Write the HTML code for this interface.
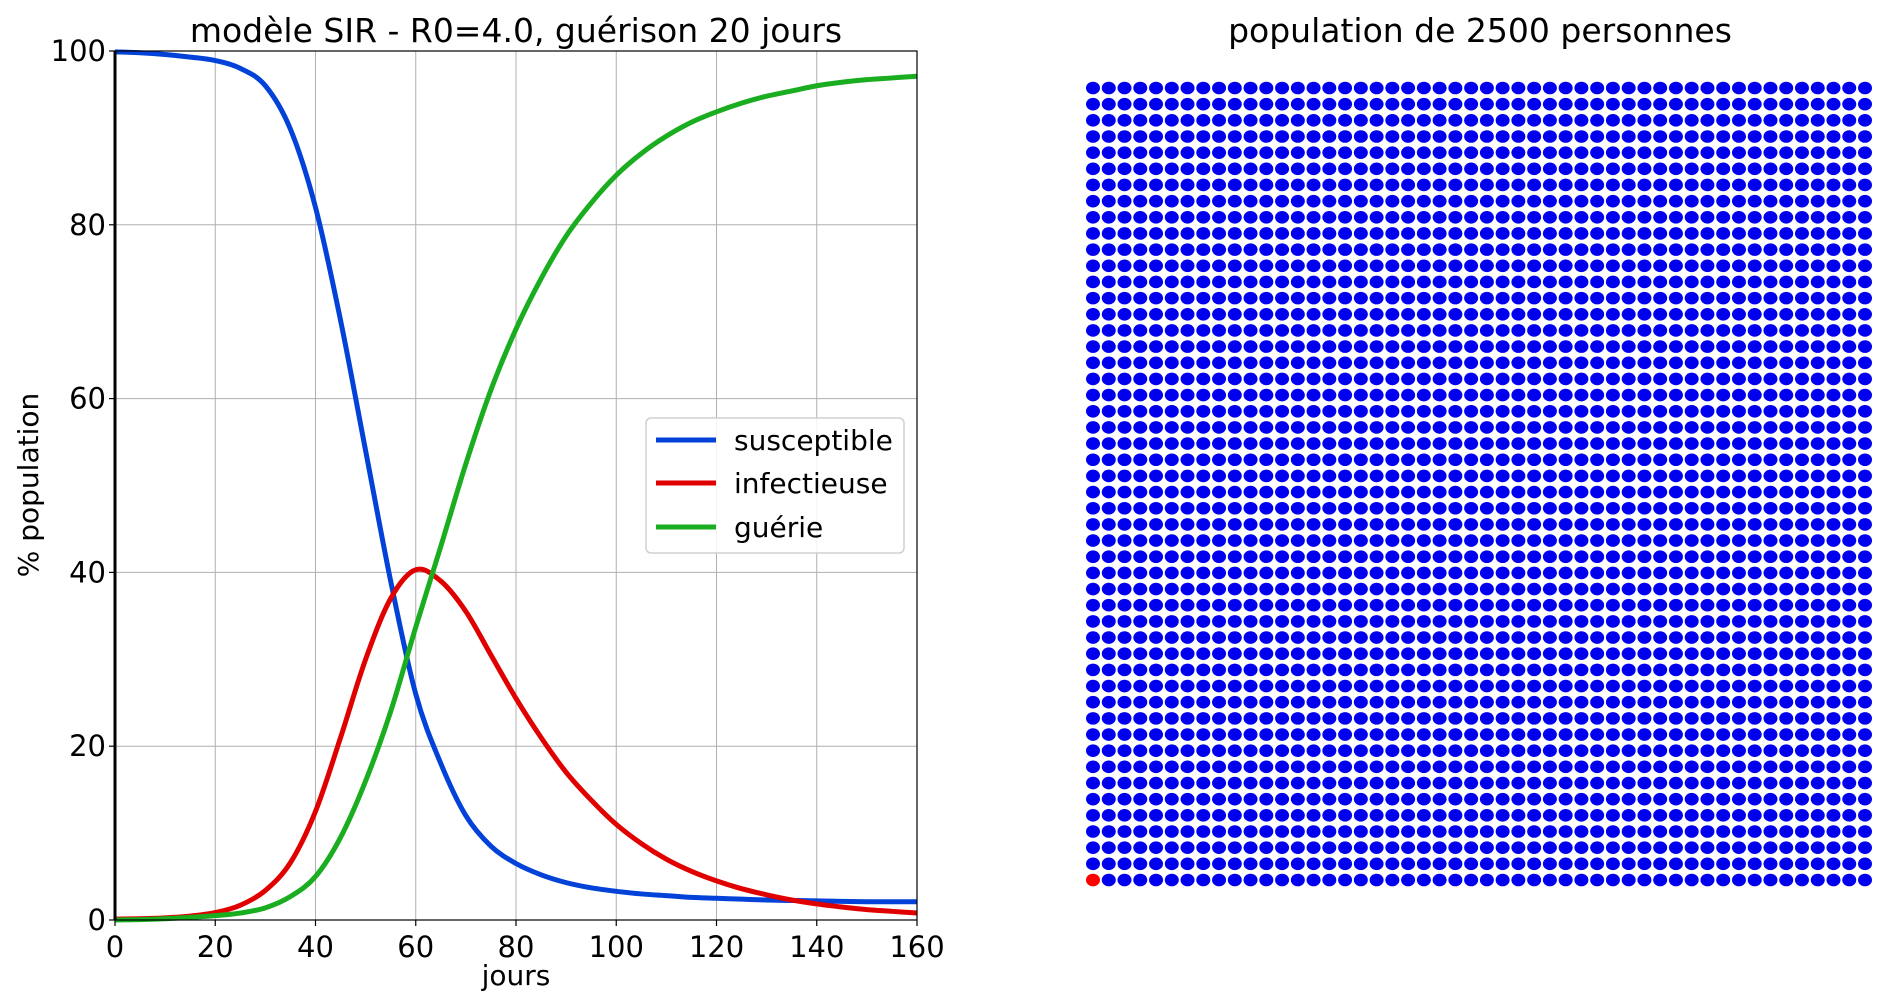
<!DOCTYPE html>
<html><head><meta charset="utf-8"><style>
html,body{margin:0;padding:0;background:#fff;}
svg{display:block;font-family:"DejaVu Sans","Liberation Sans",sans-serif;}
</style></head><body>
<svg id="chart" width="1900" height="1000" viewBox="0 0 1900 1000">
<g id="grid"></g>
<g id="series"></g>
<g id="axes"></g>
<text x="516" y="42" font-size="33" text-anchor="middle">modèle SIR - R0=4.0, guérison 20 jours</text>
<text x="516" y="985" font-size="28" text-anchor="middle">jours</text>
<text transform="translate(38,485) rotate(-90)" font-size="28" text-anchor="middle">% population</text>
<g>
<rect x="646" y="418" width="258" height="135" rx="5" fill="#fff" fill-opacity="0.85" stroke="#d0d0d0" stroke-width="1.5"/>
<line x1="656" y1="440" x2="716" y2="440" stroke="#0342d8" stroke-width="5"/>
<text x="734" y="450" font-size="28">susceptible</text>
<line x1="656" y1="483" x2="716" y2="483" stroke="#e00000" stroke-width="5"/>
<text x="734" y="493" font-size="28">infectieuse</text>
<line x1="656" y1="527" x2="716" y2="527" stroke="#19ad1f" stroke-width="5"/>
<text x="734" y="537" font-size="28">guérie</text>
</g>
<text x="1480" y="42" font-size="33" text-anchor="middle">population de 2500 personnes</text>
<g id="dots"></g>
</svg>
<script>
const days = [0,5,10,15,20,25,30,35,40,45,50,55,60,65,70,75,80,85,90,95,100,105,110,115,120,125,130,135,140,145,150,155,160];
const susceptible = [99.9,99.8,99.6,99.3,98.9,98,96,91,82,69,54,39,26,18,12,8.5,6.5,5.2,4.3,3.7,3.3,3,2.8,2.6,2.5,2.4,2.3,2.25,2.2,2.15,2.1,2.1,2.1];
const infectieuse = [0.1,0.15,0.25,0.45,0.85,1.7,3.4,6.6,12.5,21,30,37,40.3,39,35.5,30.5,25.5,21,17,13.8,11,8.8,7,5.6,4.5,3.6,2.9,2.3,1.85,1.5,1.2,1,0.8];
const guerie = [0,0.05,0.15,0.3,0.5,0.8,1.4,2.7,5,9.5,16,24,33.7,43,52.5,61,68,73.8,78.7,82.5,85.7,88.2,90.2,91.8,93,94,94.8,95.4,96,96.4,96.7,96.9,97.1];
const xTicks = [0,20,40,60,80,100,120,140,160];
const yTicks = [0,20,40,60,80,100];
const infectedCount = 1;
const populationSize = 2500;

const NS='http://www.w3.org/2000/svg';
const L=115,R=917,T=51,B=920;
const xs=v=>L+(v-0)/(160-0)*(R-L);
const ys=v=>B-(v-0)/(100-0)*(B-T);
function mk(tag,attrs,parent){const e=document.createElementNS(NS,tag);for(const k in attrs)e.setAttribute(k,attrs[k]);parent.appendChild(e);return e;}
const grid=document.getElementById('grid'),axes=document.getElementById('axes'),ser=document.getElementById('series');
xTicks.forEach(t=>{
  const g=mk('line',{x1:xs(t),x2:xs(t),y1:T,y2:B,stroke:'#b0b0b0','stroke-width':1},grid);
  
  
  const tk=mk('line',{x1:xs(t),x2:xs(t),y1:B,y2:B+6,stroke:'#000','stroke-width':1.2},axes);
  
  
  const tx=mk('text',{x:xs(t),y:B+37,'font-size':29,'text-anchor':'middle'},axes);
  tx.textContent=t;
  
  
});
yTicks.forEach(t=>{
  const g=mk('line',{x1:L,x2:R,y1:ys(t),y2:ys(t),stroke:'#b0b0b0','stroke-width':1},grid);
  
  
  const tk=mk('line',{x1:L-6,x2:L,y1:ys(t),y2:ys(t),stroke:'#000','stroke-width':1.2},axes);
  
  
  const tx=mk('text',{x:L-9,y:ys(t)+10,'font-size':29,'text-anchor':'end'},axes);
  tx.textContent=t;
  
  
});
const frame=mk('rect',{x:L,y:T,width:R-L,height:B-T,fill:'none',stroke:'#000','stroke-width':1.2},axes);


const lspine=mk('line',{x1:L,x2:L,y1:T,y2:B,stroke:'#000','stroke-width':3},axes);


function path(vals){
  const p=days.map((d,i)=>[xs(d),ys(vals[i])]);
  let s='M'+p[0][0]+','+p[0][1];
  for(let i=0;i<p.length-1;i++){
    const p0=p[Math.max(0,i-1)],p1=p[i],p2=p[i+1],p3=p[Math.min(p.length-1,i+2)];
    const c1=[p1[0]+(p2[0]-p0[0])/6,p1[1]+(p2[1]-p0[1])/6];
    const c2=[p2[0]-(p3[0]-p1[0])/6,p2[1]-(p3[1]-p1[1])/6];
    s+=' C'+c1+' '+c2+' '+p2;
  }
  return s;
}
const sl=mk('path',{d:path(susceptible),fill:'none',stroke:'#0342d8','stroke-width':5},ser);


const il=mk('path',{d:path(infectieuse),fill:'none',stroke:'#e00000','stroke-width':5},ser);


const gl=mk('path',{d:path(guerie),fill:'none',stroke:'#19ad1f','stroke-width':5},ser);


const dots=document.getElementById('dots');
const n=Math.round(Math.sqrt(populationSize));
const x0=1093,x1=1865,y0=88,y1=880;
const dx=(x1-x0)/(n-1),dy=(y1-y0)/(n-1);
for(let k=0;k<populationSize;k++){
  const col=k%n,row=Math.floor(k/n);
  const c=mk('ellipse',{cx:x0+col*dx,cy:y1-row*dy,rx:7,ry:6.3,fill:k<infectedCount?'#ff0000':'#0000ee'},dots);
  
  
}
</script>
</body></html>
